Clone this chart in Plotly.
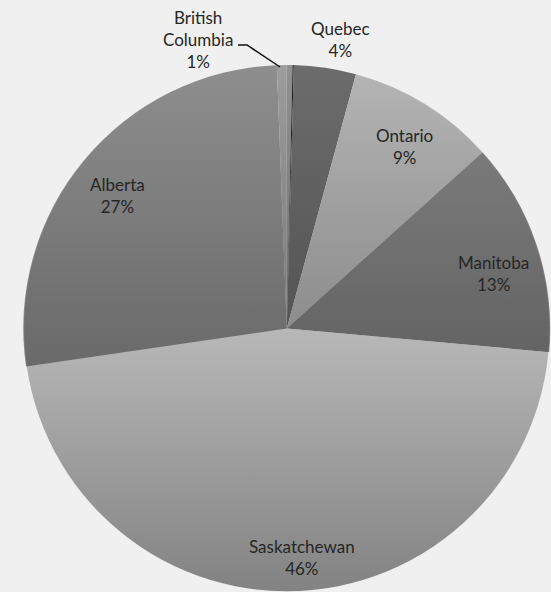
import base64
import plotly.graph_objects as go

# Data (clockwise from 12 o'clock)
provinces = ["Other A", "Other B", "Quebec", "Ontario", "Manitoba",
             "Saskatchewan", "Alberta", "British Columbia"]
shares = [0.35, 0.08, 3.8, 9.1, 13.1, 46.27, 26.7, 0.6]
label_text = {"Quebec": "Quebec", "Ontario": "Ontario", "Manitoba": "Manitoba",
              "Saskatchewan": "Saskatchewan", "Alberta": "Alberta",
              "British Columbia": "British<br>Columbia"}

# base colours (a vertical darkening overlay is applied on top)
colors = ["#909090", "#202020", "#6c6c6c", "#b5b5b5", "#848484",
          "#ededed", "#8e8e8e", "#9c9c9c"]

W, H = 551, 592
PIE_TOP = 65.0
PIE_LEFT = 22.5


def px(x):
    return x / W


def py(y):
    return 1 - y / H


fig = go.Figure()
fig.add_trace(go.Pie(
    labels=provinces, values=shares, sort=False, direction="clockwise",
    rotation=0, textinfo="none", hoverinfo="label+percent",
    marker=dict(colors=colors, line=dict(width=0)),
    domain=dict(x=[PIE_LEFT / W, 1], y=[0, 1 - PIE_TOP / H]),
    showlegend=False,
))

# gradient overlay (style only): circle matching the pie, darkening downward
R = (H - PIE_TOP) / 2
cx = (PIE_LEFT + W) / 2
cy = PIE_TOP + R
svg = (
    '<svg xmlns="http://www.w3.org/2000/svg" width="1000" height="1000" '
    'viewBox="0 0 1000 1000" preserveAspectRatio="none">'
    '<defs><linearGradient id="g" x1="0" y1="0" x2="0" y2="1">'
    '<stop offset="0" stop-color="#000" stop-opacity="0"/>'
    '<stop offset="1" stop-color="#000" stop-opacity="0.45"/>'
    '</linearGradient></defs>'
    '<circle cx="500" cy="500" r="498.5" fill="url(#g)"/></svg>'
)
src = "data:image/svg+xml;base64," + base64.b64encode(svg.encode()).decode()
fig.add_layout_image(source=src, xref="paper", yref="paper",
                     x=px(cx - R), y=py(cy - R), sizex=2 * R / W, sizey=2 * R / H,
                     xanchor="left", yanchor="top", sizing="stretch",
                     layer="above", opacity=1)

# label anchor positions in pixels (style)
label_pos = {"Quebec": (340, 39), "Ontario": (404, 147), "Manitoba": (493, 273),
             "Saskatchewan": (302, 557), "Alberta": (117, 195),
             "British Columbia": (198, 40)}
total = sum(shares)
for name, val in zip(provinces, shares):
    if name not in label_text:
        continue
    x, y = label_pos[name]
    pct = round(val / total * 100)
    fig.add_annotation(x=px(x), y=py(y), xref="paper", yref="paper",
                       text=f"{label_text[name]}<br>{pct}%", showarrow=False,
                       xanchor="center", yanchor="middle", align="center",
                       font=dict(family="Lato", size=17, color="#262626"))

# leader line for British Columbia
fig.add_shape(type="path",
              path=f"M {px(238)},{py(45)} L {px(247)},{py(45)} L {px(280)},{py(67)}",
              xref="paper", yref="paper", line=dict(color="#111111", width=1.5))

fig.update_layout(width=W, height=H, margin=dict(l=0, r=0, t=0, b=0),
                  paper_bgcolor="#f0f0f0", plot_bgcolor="#f0f0f0")
fig.write_html("out.html")
